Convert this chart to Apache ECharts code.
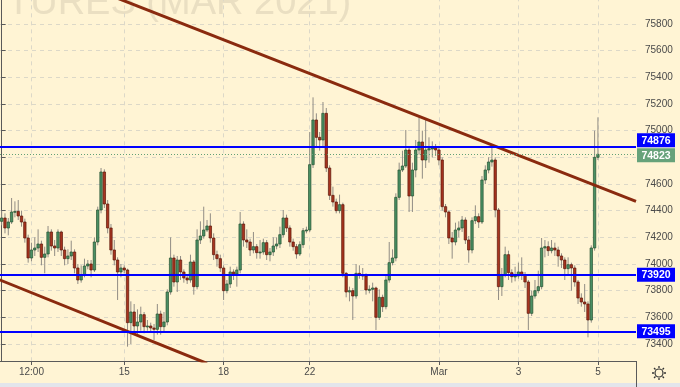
<!DOCTYPE html>
<html><head><meta charset="utf-8">
<script src="https://cdn.jsdelivr.net/npm/echarts@6/dist/echarts.min.js"></script>
<style>html,body{margin:0;padding:0;background:#fff4d4;} #c{width:680px;height:387px;}</style>
</head><body><div id="c"></div>
<script>
// ---------- data ----------
const xTickLabels = ['12:00', '15', '18', '22', 'Mar', '3', '5'];
const xTickSlots = [9, 37, 67, 93, 132, 156, 180];
const yTickValues = [73400, 73600, 73800, 74000, 74200, 74400, 74600, 74800, 75000, 75200, 75400, 75600, 75800, 76000];

const opens = [74320,74345,74270,74315,74390,74395,74360,74315,74195,74045,
 74105,74120,74150,74050,74075,74240,74135,74120,74240,74105,
 74040,74060,74090,73970,73880,73920,73985,74000,73955,74165,
 74405,74690,74450,74270,74105,74030,73940,73970,73955,73560,
 73640,73535,73565,73620,73530,73535,73520,73510,73625,73530,
 73565,73790,74045,73865,74030,73940,73895,73880,74015,73830,
 74180,74210,74255,74285,74195,74070,74040,73970,73800,73850,
 73940,73925,73955,74300,74180,74165,74105,74130,74085,74090,
 74160,74070,74090,74135,74150,74220,74345,74270,74165,74130,
 74075,74145,74250,74255,74745,75080,74950,74930,75130,74720,
 74515,74465,74400,74445,73930,73790,73800,73760,73930,73920,
 73910,73805,73810,73820,73600,73750,73680,73880,74010,74045,
 74500,74705,74735,74855,74510,74705,74855,74915,74780,74855,
 74865,74870,74855,74780,74430,74390,74195,74165,74255,74270,
 74330,74180,74105,74325,74355,74315,74630,74705,74765,74780,
 74405,73830,73920,74070,73935,73905,73910,73940,73920,73865,
 73630,73760,73800,73830,74120,74130,74100,74120,74105,74060,
 74030,73965,73995,73970,73865,73745,73715,73700,73580,74120,
 74800];
const closes = [74345,74270,74315,74390,74395,74360,74315,74195,74045,74105,
 74120,74150,74050,74075,74240,74135,74120,74240,74105,74040,
 74060,74090,73970,73880,73920,73985,74000,73955,74165,74405,
 74690,74450,74270,74105,74030,73940,73970,73955,73560,73640,
 73535,73565,73620,73530,73535,73520,73510,73625,73530,73565,
 73790,74045,73865,74030,73940,73895,73880,74015,73830,74180,
 74210,74255,74285,74195,74070,74040,73970,73800,73850,73940,
 73925,73955,74300,74180,74165,74105,74130,74085,74090,74160,
 74070,74090,74135,74150,74220,74345,74270,74165,74130,74075,
 74145,74250,74255,74745,75080,74950,74930,75130,74720,74515,
 74465,74400,74445,73930,73790,73800,73760,73930,73920,73910,
 73805,73810,73820,73600,73750,73680,73880,74010,74045,74500,
 74705,74735,74855,74510,74705,74855,74915,74780,74855,74865,
 74870,74855,74780,74430,74390,74195,74165,74255,74270,74330,
 74180,74105,74325,74355,74315,74630,74705,74765,74780,74405,
 73830,73920,74070,73935,73905,73910,73940,73920,73865,73630,
 73760,73800,73830,74120,74130,74100,74120,74105,74060,74030,
 73965,73995,73970,73865,73745,73715,73700,73580,74120,74800,
 74823];
const lows = [74290,74230,74215,74300,74350,74330,74280,74160,74010,74020,
 74060,74090,73990,73930,74050,74100,74060,74090,74060,73990,
 74000,74030,73930,73850,73860,73900,73960,73900,73940,74140,
 74380,74420,74230,74070,73990,73730,73900,73930,73380,73400,
 73490,73470,73500,73480,73500,73490,73430,73470,73470,73490,
 73540,73770,73830,73790,73880,73860,73850,73860,73770,73810,
 74150,74190,74240,74160,74030,73980,73940,73730,73780,73820,
 73880,73830,73930,74130,74120,74060,74080,74040,74040,74070,
 74030,74020,74060,74110,74120,74200,74240,74130,74100,74040,
 74060,74120,74230,74240,74720,74880,74850,74880,74690,74480,
 74430,74380,74380,73900,73750,73720,73580,73740,73890,73880,
 73770,73780,73720,73505,73580,73640,73660,73860,73990,74020,
 74480,74690,74720,74390,74390,74650,74820,74640,74720,74760,
 74800,74810,74740,74400,74350,74150,74040,74140,74200,74240,
 74150,74010,74080,74300,74270,74300,74600,74680,74730,74350,
 73730,73760,73900,73880,73860,73870,73890,73880,73820,73505,
 73610,73740,73780,73810,74050,74060,74080,74060,73980,73970,
 73880,73920,73800,73830,73700,73680,73640,73450,73560,74100,
 74780];
const highs = [74400,74380,74345,74495,74470,74480,74400,74340,74220,74160,
 74200,74260,74175,74130,74285,74260,74180,74260,74250,74130,
 74110,74175,74110,74000,73990,74040,74030,74030,74200,74430,
 74720,74710,74480,74300,74180,74050,74000,73990,73965,73720,
 73700,73660,73680,73640,73580,73560,73550,73700,73650,73640,
 73810,74200,74070,74060,74060,73960,73920,74070,74030,74260,
 74320,74430,74330,74380,74230,74100,74070,73990,73880,73980,
 73960,73980,74390,74320,74260,74190,74240,74150,74180,74190,
 74180,74120,74200,74200,74280,74405,74370,74290,74190,74150,
 74170,74270,74280,74990,75250,75130,74990,75215,75170,74740,
 74580,74490,74520,74460,73940,73830,73820,74000,73990,73970,
 73930,73840,73860,73830,73810,73770,73920,74165,74110,74530,
 74760,74850,75005,74880,74760,74930,75100,75000,75080,74950,
 74920,74900,74880,74800,74450,74400,74240,74310,74320,74360,
 74350,74210,74350,74440,74380,74660,74740,74800,74880,74800,
 74420,73970,74130,74100,73960,73980,74010,74050,73940,73880,
 73800,73880,73950,74195,74180,74170,74180,74160,74130,74080,
 74050,74050,74010,73990,73880,73780,73850,73720,74140,75000,
 75100];

const levels = [74876, 73920, 73495];
const lastPrice = 74823;
const trendUpper = [[20, 76139], [191.5, 74470]];
const trendLower = [[-3, 73905], [62, 73254]];
const watermarkText = 'TURES (MAR 2021)';

// ---------- chart ----------
const SLOTS = 192;
const FONT = '"Liberation Sans", Arial, sans-serif';
const cats = Array.from({length: SLOTS}, (_, i) => String(i));
const candleData = closes.map((c, i) => [i, opens[i], c, lows[i], highs[i]]);

function renderCandle(params, api) {
  const i = api.value(0);
  const o = api.value(1), c = api.value(2), l = api.value(3), h = api.value(4);
  const pO = api.coord([i, o]), pC = api.coord([i, c]);
  const pL = api.coord([i, l]), pH = api.coord([i, h]);
  const bw = api.size([1, 0])[0];
  const w = Math.max(1.6, bw * 0.72);
  const x = pO[0];
  const up = c >= o;
  const top = Math.min(pO[1], pC[1]);
  const hgt = Math.max(1, Math.abs(pO[1] - pC[1]));
  return {type: 'group', children: [
    {type: 'line', shape: {x1: x, y1: pH[1], x2: x, y2: pL[1]}, style: {stroke: '#918c84', lineWidth: 1}},
    {type: 'rect', shape: {x: x - w / 2, y: top, width: w, height: hgt},
     style: {fill: up ? '#4a9064' : '#a8341f', stroke: up ? '#24502f' : '#5a1608', lineWidth: 0.7}}
  ]};
}

const chart = echarts.init(document.getElementById('c'), null, {renderer: 'canvas'});
const gridColor = '#dcd8c8';
const axisLabelColor = '#4a4a4a';
chart.setOption({
  animation: false,
  backgroundColor: '#fff4d4',
  textStyle: {fontFamily: FONT},
  grid: {left: 0, right: 44, top: -2.67, bottom: 26, containLabel: false, outerBoundsMode: 'none'},
  xAxis: [
    {type: 'category', data: cats, boundaryGap: true, show: false},
    {type: 'value', min: -0.5, max: SLOTS - 0.5, position: 'bottom',
     axisLine: {show: true, onZero: false, lineStyle: {color: '#5a5a5a', width: 1}},
     axisTick: {show: true, length: 4, customValues: xTickSlots, lineStyle: {color: '#5a5a5a'}},
     axisLabel: {show: true, customValues: xTickSlots, margin: 6, fontSize: 10, color: axisLabelColor, fontFamily: FONT,
       formatter: v => { const k = xTickSlots.indexOf(Math.round(v)); return k >= 0 ? xTickLabels[k] : ''; }},
     splitLine: {show: true, lineStyle: {color: gridColor, type: [4, 4], width: 1}}}
  ],
  yAxis: {type: 'value', position: 'right', min: 73272.5, max: 76000, scale: true,
    axisLine: {show: true, lineStyle: {color: '#5a5a5a', width: 1}},
    axisTick: {show: true, length: 4, inside: false, customValues: yTickValues, lineStyle: {color: '#5a5a5a'}},
    axisLabel: {show: true, customValues: yTickValues, margin: 9, fontSize: 10, color: axisLabelColor, fontFamily: FONT,
      showMaxLabel: true, hideOverlap: false, formatter: v => String(Math.round(v))},
    splitLine: {show: true, lineStyle: {color: gridColor, type: [4, 4], width: 1}}
  },
  series: [
    {type: 'custom', name: 'candles', xAxisIndex: 0, yAxisIndex: 0, data: candleData,
     encode: {x: 0, y: [1, 2, 3, 4]}, renderItem: renderCandle, clip: true, z: 2},
    {type: 'line', name: 'trendUpper', xAxisIndex: 1, yAxisIndex: 0, data: trendUpper,
     symbol: 'none', clip: true, z: 4, lineStyle: {color: '#8a2a0e', width: 3},
     markLine: {silent: true, symbol: 'none', animation: false, label: {show: false},
       data: [
         {yAxis: lastPrice, lineStyle: {color: '#62a076', width: 1, type: [1, 2]}},
         ...levels.map(v => ({yAxis: v, lineStyle: {color: '#0000ff', width: 2, type: 'solid'}}))
       ]}},
    {type: 'line', name: 'trendLower', xAxisIndex: 1, yAxisIndex: 0, data: trendLower,
     symbol: 'none', clip: true, z: 4, lineStyle: {color: '#8a2a0e', width: 3}}
  ]
});

// price tags on the right axis, positioned by the chart's own y scale
const tags = [
  {v: levels[0], color: '#0000ff', dy: -7},
  {v: lastPrice, color: '#66a27a', dy: 1},
  {v: levels[1], color: '#0000ff', dy: 0},
  {v: levels[2], color: '#0000ff', dy: 0}
];
const g = [];
g.push({type: 'text', x: 7, y: 3.5, z: -10, silent: true,
  style: {text: watermarkText, font: '38px ' + FONT, fill: '#eadfc2', align: 'left', verticalAlign: 'middle'}});
// top tick label that sits on the upper edge (partly cut off, as in the reference)
const topTick = yTickValues[yTickValues.length - 1];
g.push({type: 'text', x: 645, y: chart.convertToPixel({yAxisIndex: 0}, topTick), z: 90,
  style: {text: String(topTick), fill: axisLabelColor, font: '10px ' + FONT, align: 'left', verticalAlign: 'middle'}});
tags.forEach(t => {
  const y = chart.convertToPixel({yAxisIndex: 0}, t.v) + t.dy;
  g.push({type: 'rect', shape: {x: 637, y: y - 7, width: 38, height: 14}, style: {fill: t.color}, z: 100});
  g.push({type: 'text', x: 656, y: y + 0.5, z: 101,
    style: {text: String(t.v), fill: '#ffffff', font: 'bold 10.5px ' + FONT, align: 'center', verticalAlign: 'middle'}});
});
g.push({type: 'rect', shape: {x: 0, y: 383, width: 680, height: 4}, style: {fill: '#e3e5eb'}, z: 50});
g.push({type: 'line', shape: {x1: 636.5, y1: 361, x2: 636.5, y2: 387}, style: {stroke: '#5a5a5a', lineWidth: 1}, z: 51});
// settings icon
const cx = 659, cy = 373;
g.push({type: 'circle', shape: {cx: cx, cy: cy, r: 4}, style: {fill: 'none', stroke: '#333', lineWidth: 1.2}, z: 60});
for (let k = 0; k < 8; k++) {
  const a = k * Math.PI / 4;
  g.push({type: 'line', shape: {x1: cx + Math.cos(a) * 5, y1: cy + Math.sin(a) * 5, x2: cx + Math.cos(a) * 7, y2: cy + Math.sin(a) * 7},
    style: {stroke: '#333', lineWidth: 1.3}, z: 60});
}
chart.setOption({graphic: g});
</script>
</body></html>
